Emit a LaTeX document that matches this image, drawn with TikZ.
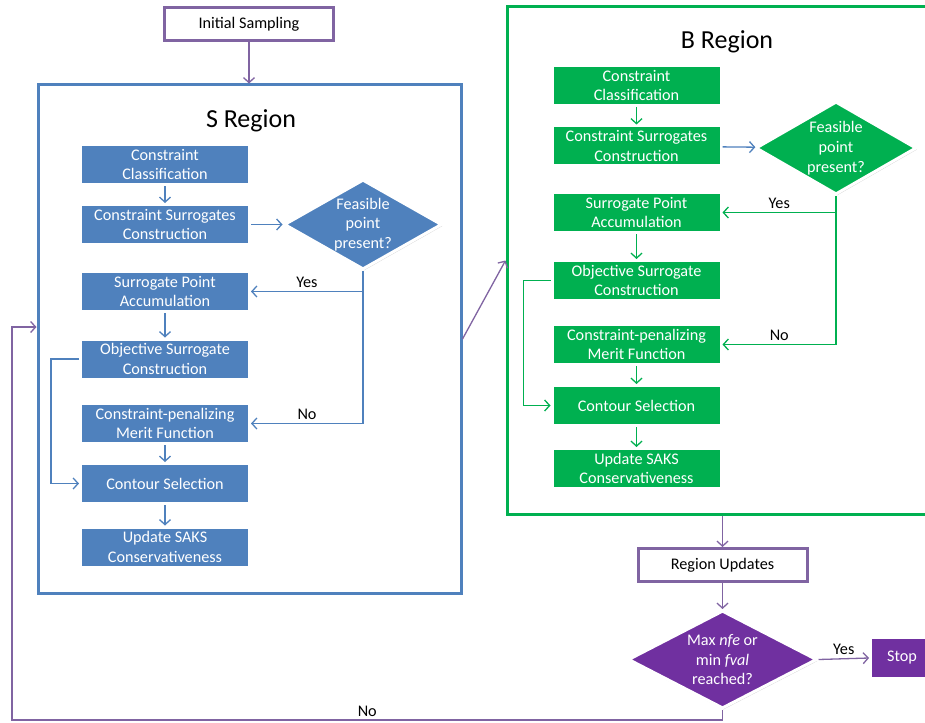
\documentclass[tikz,border=0pt]{standalone}
\usepackage{fontspec}
\setmainfont{Carlito}
\usetikzlibrary{arrows.meta,shapes.geometric,shadows}
\definecolor{sblue}{HTML}{4F81BD}
\definecolor{bgreen}{HTML}{00B050}
\definecolor{ppurp}{HTML}{7030A0}
\definecolor{lpurp}{HTML}{8064A2}
\begin{document}
\begin{tikzpicture}[x=1pt,y=1pt,
  txt/.style={font=\fontsize{16.2}{19.8}\selectfont},
  shad/.style={drop shadow={shadow xshift=1pt,shadow yshift=-1.5pt,fill=black!60,opacity=0.3}},
  box/.style={rectangle, draw=white, line width=3pt, minimum width=169pt, minimum height=40pt, inner sep=1pt, align=center, text=white, txt, shad},
  sbox/.style={box, fill=sblue},
  bbox/.style={box, fill=bgreen},
  diam/.style={diamond, draw=white, line width=3pt, inner sep=0pt, shad},
  dtext/.style={txt, text=white, align=center, inner sep=0pt},
  lbl/.style={txt, text=black, inner sep=3pt},
  pbox/.style={rectangle, draw=lpurp, line width=3pt, fill=white, txt, text=black, inner sep=1pt},
  frame/.style={rectangle, line width=3pt, inner sep=0pt},
  title/.style={font=\fontsize{26}{30}\selectfont, text=black, inner sep=0pt},
  tip/.style={-{Straight Barb[length=5pt,width=11pt]}},
  sconn/.style={tip, draw=sblue, line width=1.3pt},
  bconn/.style={tip, draw=bgreen, line width=1.3pt},
  pconn/.style={tip, draw=lpurp, line width=1.3pt}
]
\clip (0,0) rectangle (925,-722);
\fill[white] (0,0) rectangle (925,-722);

% frames
\node[frame, draw=sblue, minimum width=423pt, minimum height=508pt] (sreg) at (249.5,-339) {};
\node[frame, draw=bgreen, minimum width=440pt, minimum height=507pt] (breg) at (727,-260.5) {};
\node[title] (stitle) at (251,-121) {S Region};
\node[title] (btitle) at (727,-42) {B Region};

% top / bottom purple nodes
\node[pbox, minimum width=169pt, minimum height=33pt] (init) at (249,-24) {Initial Sampling};
\node[pbox, minimum width=169pt, minimum height=33pt] (ru) at (722.5,-565) {Region Updates};
\node[diam, fill=ppurp, minimum width=189pt, minimum height=98pt] (dec) at (722.5,-659.5) {};
\node[dtext] (dect) at (dec) {Max \textit{nfe} or\\min \textit{fval}\\reached?};
\node[box, fill=ppurp, minimum width=63pt, minimum height=41pt] (stop) at (902,-658) {Stop};

% S region
\node[sbox] (s1) at (165,-164.5) {Constraint\\Classification};
\node[sbox] (s2) at (165,-224.5) {Constraint Surrogates\\Construction};
\node[sbox] (s3) at (165,-291.5) {Surrogate Point\\Accumulation};
\node[sbox] (s4) at (165,-359) {Objective Surrogate\\Construction};
\node[sbox] (s5) at (165,-423.5) {Constraint-penalizing\\Merit Function};
\node[sbox] (s6) at (165,-483.5) {Contour Selection};
\node[sbox] (s7) at (165,-547) {Update SAKS\\Conservativeness};
\node[diam, fill=sblue, minimum width=158pt, minimum height=90pt] (d1) at (363,-224.5) {};
\node[dtext] (d1t) at (d1) {Feasible\\point\\present?};

% B region
\node[bbox] (b1) at (636.5,-85.5) {Constraint\\Classification};
\node[bbox] (b2) at (636.5,-146) {Constraint Surrogates\\Construction};
\node[bbox] (b3) at (636.5,-212.5) {Surrogate Point\\Accumulation};
\node[bbox] (b4) at (636.5,-280.5) {Objective Surrogate\\Construction};
\node[bbox] (b5) at (636.5,-344.5) {Constraint-penalizing\\Merit Function};
\node[bbox] (b6) at (636.5,-405.5) {Contour Selection};
\node[bbox] (b7) at (636.5,-468.5) {Update SAKS\\Conservativeness};
\node[diam, fill=bgreen, minimum width=161pt, minimum height=93pt] (d2) at (836,-148) {};
\node[dtext] (d2t) at (d2) {Feasible\\point\\present?};

% S connectors
\draw[sconn] (s1) -- (s2);
\draw[sconn] (s2) -- (d1);
\draw[sconn] (d1.south) |- node[pos=0.75, above, lbl] (sy) {Yes} (s3.east);
\draw[sconn] (d1.south) |- node[pos=0.75, above, lbl] (sn) {No} (s5.east);
\draw[sconn] (s3) -- (s4);
\draw[sconn] (s4.west) -- ++(-28,0) |- (s6.west);
\draw[sconn] (s5) -- (s6);
\draw[sconn] (s6) -- (s7);

% B connectors
\draw[bconn] (b1) -- (b2);
\draw[sconn] (b2) -- (d2);
\draw[bconn] (d2.south) |- node[pos=0.75, above, lbl] (by) {Yes} (b3.east);
\draw[bconn] (d2.south) |- node[pos=0.75, above, lbl] (bn) {No} (b5.east);
\draw[bconn] (b3) -- (b4);
\draw[bconn] (b4.west) -- ++(-27,0) |- (b6.west);
\draw[bconn] (b5) -- (b6);
\draw[bconn] (b6) -- (b7);

% purple connectors
\draw[pconn] (init.south) -- (init.south |- sreg.north);
\draw[pconn] (sreg.east) -- (breg.west);
\draw[pconn] (ru.north |- breg.south) -- (ru.north);
\draw[pconn] (ru.south) -- (dec.north);
\draw[pconn] (dec.east) -- node[above, lbl] (dy) {Yes} (stop.west);
\coordinate (lb) at (12,-720);
\coordinate (lt) at (12,-327);
\draw[pconn] (dec.south) |- node[pos=0.75, above, lbl] (dn) {No} (lb) -- (lt) -- (lt -| sreg.west);
\end{tikzpicture}
\end{document}
